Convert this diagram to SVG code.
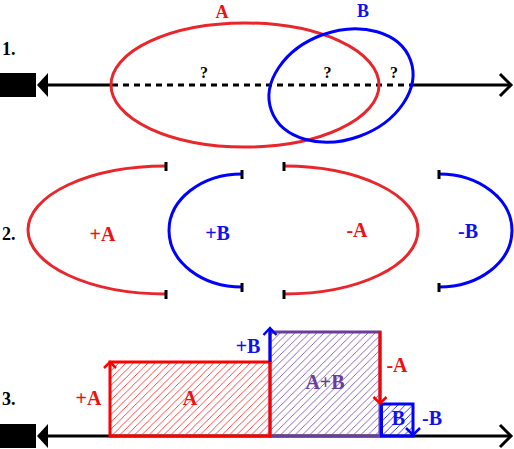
<svg xmlns="http://www.w3.org/2000/svg" width="514" height="449" viewBox="0 0 514 449">
<defs>
<pattern id="hR" patternUnits="userSpaceOnUse" width="7.3" height="7.3"><path d="M-1,1 L1,-1 M0,7.3 L7.3,0 M6.3,8.3 L8.3,6.3" stroke="#ff3030" stroke-width="0.9"/></pattern>
<pattern id="hP" patternUnits="userSpaceOnUse" width="7.3" height="7.3"><path d="M-1,1 L1,-1 M0,7.3 L7.3,0 M6.3,8.3 L8.3,6.3" stroke="#7a55a8" stroke-width="0.9"/></pattern>
<pattern id="hB" patternUnits="userSpaceOnUse" width="7.3" height="7.3"><path d="M-1,1 L1,-1 M0,7.3 L7.3,0 M6.3,8.3 L8.3,6.3" stroke="#2020ff" stroke-width="0.9"/></pattern>
</defs>
<style>
text{font-family:"Liberation Serif","Times New Roman",serif;font-weight:bold;font-size:20px}
.n{font-size:18px}
.t{font-size:18px}
.k{fill:#000}.r{fill:#ee1111}.b{fill:#1111ee}.p{fill:#6a3d9a}
.q{font-size:16px;fill:#000;text-anchor:middle}
.m{text-anchor:middle}
.ax{stroke:#000;stroke-width:3;fill:none}
.sr{stroke:#e8262c;stroke-width:3;fill:none}
.sb{stroke:#0000ff;stroke-width:3;fill:none}
.sp{stroke:#6a3d9a;stroke-width:3}
.tick{fill:#000}
</style>

<g id="labels-num">
<text class="k n" x="2" y="55">1.</text>
<text class="k n" x="2" y="240">2.</text>
<text class="k n" x="2" y="405">3.</text>
</g>

<g id="connectors">
<polygon points="0,73 36,73 36,97 0,97" fill="#000"/>
<polygon points="37,85 48,73 48,97" fill="#000"/>
<line class="ax" x1="48" y1="85" x2="112" y2="85"/>
<line class="ax" x1="112" y1="85" x2="410" y2="85" stroke-dasharray="6,5"/>
<line class="ax" x1="410" y1="85" x2="511" y2="85"/>
<polyline class="ax" points="500,74 511,85 500,96"/>

<polygon points="0,424 36,424 36,448 0,448" fill="#000"/>
<polygon points="37,436 48,424 48,448" fill="#000"/>
<line class="ax" x1="48" y1="436" x2="511" y2="436"/>
<polyline class="ax" points="500,425 511,436 500,447"/>
</g>

<g id="ellA">
<ellipse class="sr" cx="245" cy="85" rx="134" ry="62"/>
<text class="r m t" x="222" y="17.5">A</text>
</g>
<g id="ellB">
<ellipse class="sb" cx="341" cy="85.5" rx="74" ry="54" transform="rotate(-20 341 85.5)"/>
<text class="b m t" x="363" y="17">B</text>
</g>
<g id="questions">
<text class="q" x="204" y="78">?</text>
<text class="q" x="327.5" y="78">?</text>
<text class="q" x="394" y="78">?</text>
</g>

<g id="plusA">
<path class="sr" d="M166,166 A138,64 0 0,0 166,294"/>
<rect class="tick" x="164.5" y="162" width="3" height="9"/>
<rect class="tick" x="164.5" y="290" width="3" height="9"/>
<text class="r m" x="102.5" y="241">+A</text>
</g>
<g id="plusB">
<path class="sb" d="M242,174 A73,56.5 0 0,0 242,287"/>
<rect class="tick" x="240.5" y="170" width="3" height="9"/>
<rect class="tick" x="240.5" y="283" width="3" height="9"/>
<text class="b m" x="217.5" y="240">+B</text>
</g>
<g id="minusA">
<path class="sr" d="M284,166 A134,64 0 0,1 284,294"/>
<rect class="tick" x="282.5" y="162" width="3" height="9"/>
<rect class="tick" x="282.5" y="290" width="3" height="9"/>
<text class="r m" x="357" y="237">-A</text>
</g>
<g id="minusB">
<path class="sb" d="M439,174 A73,56.5 0 0,1 439,287"/>
<rect class="tick" x="437.5" y="170" width="3" height="9"/>
<rect class="tick" x="437.5" y="283" width="3" height="9"/>
<text class="b m" x="468" y="238">-B</text>
</g>

<g id="rectAB">
<rect x="270" y="332" width="110" height="104" fill="url(#hP)" class="sp"/>
<text class="p m" x="325" y="389">A+B</text>
</g>
<g id="rectA">
<rect x="110" y="362" width="160" height="74" fill="url(#hR)" stroke="#ff0000" stroke-width="3"/>
<text class="r m" x="190" y="405">A</text>
<text class="r m" x="88.5" y="405">+A</text>
<polyline points="104,368 110,362 116,368" fill="none" stroke="#ff0000" stroke-width="2.5"/>
</g>
<g id="rectB">
<rect x="381.5" y="404" width="31.5" height="32" fill="url(#hB)" stroke="#0000ff" stroke-width="3"/>
<text class="b m" x="398.5" y="425">B</text>
<text class="b m" x="432" y="425">-B</text>
<polyline points="406,428 413,435 420,428" fill="none" stroke="#0000ff" stroke-width="2.5"/>
</g>
<g id="arrowPlusB">
<line x1="270" y1="362" x2="270" y2="329" stroke="#0000ff" stroke-width="3"/>
<polyline points="263.5,335 270,328 276.5,335" fill="none" stroke="#0000ff" stroke-width="2.5"/>
<text class="b m" x="248" y="353">+B</text>
</g>
<g id="arrowMinusA">
<line x1="380" y1="331" x2="380" y2="403" stroke="#ff0000" stroke-width="3"/>
<polyline points="373.5,397 380,403.5 386.5,397" fill="none" stroke="#ff0000" stroke-width="2.5"/>
<text class="r m" x="397" y="372">-A</text>
</g>
</svg>
